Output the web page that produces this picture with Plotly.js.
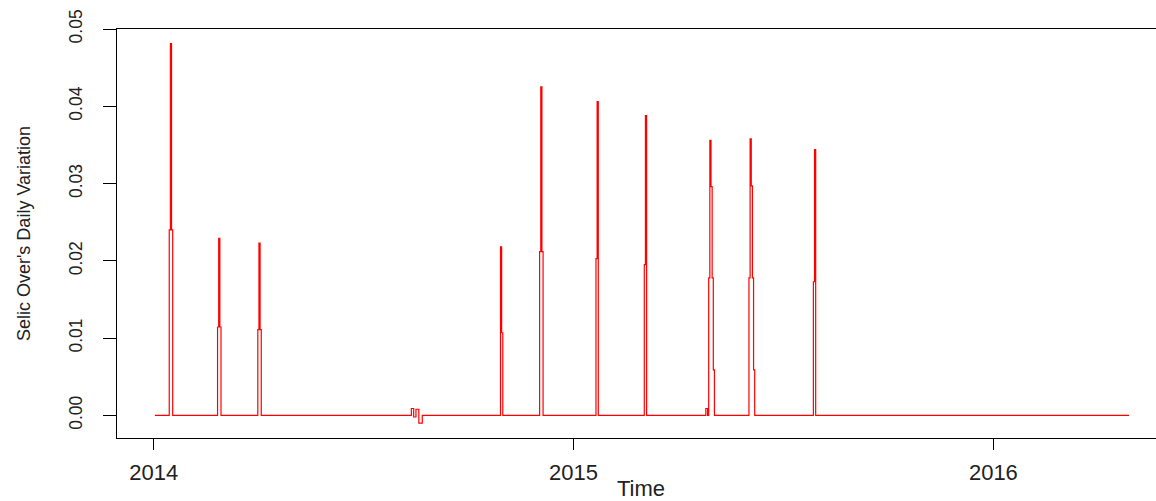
<!DOCTYPE html>
<html>
<head>
<meta charset="utf-8">
<script src="https://cdn.plot.ly/plotly-3.0.1.min.js"></script>
<style>
html, body { margin: 0; padding: 0; overflow: hidden; background: #fff; }
#chart { width: 1165px; height: 501px; }
</style>
</head>
<body>
<div id="chart"></div>
<script>
// Selic Over's daily variation: points where the series changes (zero elsewhere)
const dates = [
  "2014-01-02",
  "2014-01-14", "2014-01-15", "2014-01-16", "2014-01-17", "2014-01-18",
  "2014-02-25", "2014-02-26", "2014-02-27", "2014-02-28", "2014-03-01",
  "2014-04-01", "2014-04-02", "2014-04-03", "2014-04-04", "2014-04-05",
  "2014-08-12", "2014-08-14", "2014-08-16", "2014-08-18", "2014-08-21", "2014-08-24",
  "2014-10-29", "2014-10-30", "2014-10-31", "2014-11-01",
  "2014-12-02", "2014-12-03", "2014-12-04", "2014-12-05", "2014-12-06",
  "2015-01-20", "2015-01-21", "2015-01-22", "2015-01-23",
  "2015-03-03", "2015-03-04", "2015-03-05", "2015-03-06",
  "2015-04-25", "2015-04-27", "2015-04-28", "2015-04-29", "2015-04-30", "2015-05-01", "2015-05-02", "2015-05-03", "2015-05-04",
  "2015-06-02", "2015-06-03", "2015-06-04", "2015-06-05", "2015-06-06", "2015-06-07", "2015-06-08",
  "2015-07-28", "2015-07-29", "2015-07-30", "2015-07-31",
  "2016-04-28"
];
const variation = [
  0,
  0, 0.0240, 0.0481, 0.0240, 0,
  0, 0.01144, 0.0229, 0.01144, 0,
  0, 0.0111, 0.0223, 0.0111, 0,
  0, 0.0009, -0.0002, 0.0008, -0.0010, 0,
  0, 0.0218, 0.0107, 0,
  0, 0.0212, 0.0425, 0.0212, 0,
  0, 0.0203, 0.0406, 0,
  0, 0.0195, 0.0388, 0,
  0, 0.0009, 0, 0.0178, 0.0356, 0.0296, 0.0178, 0.0059, 0,
  0, 0.0178, 0.0358, 0.0297, 0.0178, 0.0059, 0,
  0, 0.0173, 0.0344, 0,
  0
];
const yearTickVals = ["2014-01-01", "2015-01-01", "2016-01-01"];
const yearTickText = ["2014", "2015", "2016"];
const yTickVals = [0, 0.01, 0.02, 0.03, 0.04, 0.05];
const yTickText = ["0.00", "0.01", "0.02", "0.03", "0.04", "0.05"];

const trace = {
  x: dates,
  y: variation,
  type: "scatter",
  mode: "lines",
  line: { color: "#ff0000", width: 1.2, shape: "hvh" },
  hoverinfo: "x+y"
};

const font = "Liberation Sans, Arial, sans-serif";

const layout = {
  width: 1165,
  height: 501,
  margin: { l: 117, r: 0, t: 29, b: 63, pad: 0 },
  paper_bgcolor: "#ffffff",
  plot_bgcolor: "#ffffff",
  showlegend: false,
  xaxis: {
    type: "date",
    range: ["2013-11-30 02:00", "2016-05-29 05:00"],
    tickmode: "array",
    tickvals: yearTickVals,
    ticktext: yearTickText,
    ticks: "outside",
    ticklen: 11,
    tickwidth: 1,
    tickcolor: "#000",
    showgrid: false,
    zeroline: false,
    showline: true,
    linecolor: "#000",
    linewidth: 1,
    mirror: true,
    ticklabelstandoff: 4,
    tickfont: { family: font, size: 22, color: "#222" },
    title: { text: "Time", font: { family: font, size: 22, color: "#222" }, standoff: 6 },
    automargin: false
  },
  yaxis: {
    range: [-0.00292, 0.05],
    tickmode: "array",
    tickvals: yTickVals,
    ticktext: yTickText,
    tickangle: -90,
    ticks: "outside",
    ticklen: 13,
    tickwidth: 1,
    tickcolor: "#000",
    showgrid: false,
    zeroline: false,
    showline: true,
    linecolor: "#000",
    linewidth: 1,
    mirror: true,
    ticklabelstandoff: 14,
    tickfont: { family: font, size: 17.5, color: "#222" },
    title: { text: "Selic Over's Daily Variation", font: { family: font, size: 18, color: "#222" }, standoff: 30 },
    automargin: false
  }
};

Plotly.newPlot("chart", [trace], layout, { displayModeBar: false, staticPlot: true });
</script>
</body>
</html>
